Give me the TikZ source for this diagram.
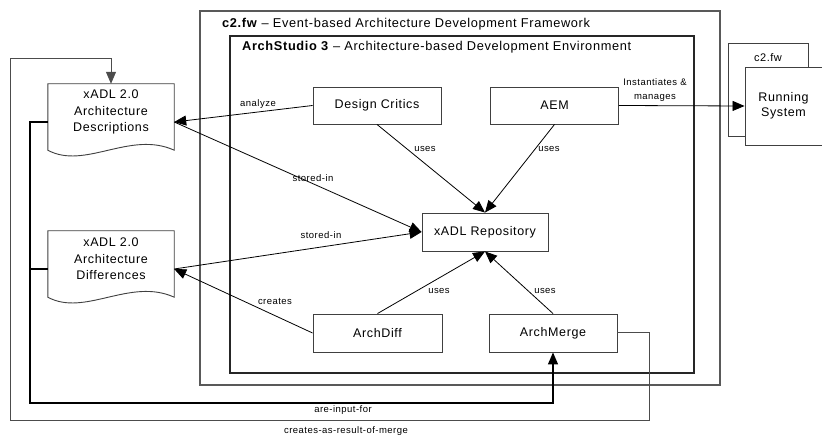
\documentclass[tikz,border=0pt]{standalone}
\usepackage{fontspec}
\setmainfont[LetterSpace=5]{Liberation Sans}
\usetikzlibrary{arrows.meta,calc}
\definecolor{linegray}{gray}{0.25}
\definecolor{framegray}{gray}{0.35}
\begin{document}
\begin{tikzpicture}[x=1pt,y=-1pt,
  box/.style={draw=linegray, line width=0.9pt, fill=white, minimum width=128pt, minimum height=37pt, inner sep=0pt, align=center, font=\fontsize{12.5}{15}\selectfont},
  lbl/.style={font=\fontsize{9.5}{14}\selectfont, inner sep=0pt, align=center},
  tip/.style={-{Triangle[length=12pt,width=10pt]}},
  conn/.style={draw=black, line width=0.8pt, tip},
  doctxt/.style={font=\fontsize{12.5}{16.5}\selectfont, align=center, inner sep=0pt},
  docbox/.style={minimum width=126pt, minimum height=76pt, inner sep=0pt},
  docline/.style={draw=linegray, line width=0.9pt, fill=white},
  outerframe/.style={draw=framegray, line width=1.6pt},
  innerframe/.style={draw=black!85, line width=1.3pt},
  titletxt/.style={font=\fontsize{12.8}{15}\selectfont, anchor=west, inner sep=0pt},
  inputline/.style={draw=black, line width=1.3pt},
  mergeline/.style={draw=black!70, line width=1pt}
]
\useasboundingbox (0,0) rectangle (822,435);

% frames
\draw[outerframe] (200,11) rectangle (720,385);
\draw[innerframe] (230,36) rectangle (694,373);
\node[titletxt] (t1) at (222,24) {\textbf{c2.fw} – Event-based Architecture Development Framework};
\node[titletxt] (t2) at (242,47) {\textbf{ArchStudio 3} – Architecture-based Development Environment};

% documents
\node[docbox] (d1) at (111,122) {};
\node[docbox] (d2) at (111,269) {};
\foreach \d in {d1,d2}{
  \draw[docline] (\d.north west) -- (\d.north east) -- ([yshift=10pt]\d.south east)
    .. controls +(-44,-20) and +(37,20) .. ([yshift=10pt]\d.south west) -- cycle;
}
\node[doctxt] (d1t) at ([yshift=10pt]d1.center) {xADL 2.0\\Architecture\\Descriptions};
\node[doctxt] (d2t) at ([yshift=10pt]d2.center) {xADL 2.0\\Architecture\\Differences};

% boxes
\node[box] (dc) at (377,105.5) {Design Critics};
\node[box] (aem) at (554.5,105.5) {AEM};
\node[box, minimum width=126pt, minimum height=38pt] (repo) at (485,232) {xADL Repository};
\node[box, minimum width=129pt, minimum height=38pt] (diff) at (377.5,333) {ArchDiff};
\node[box, minimum width=128pt, minimum height=38pt] (merge) at (553,333) {ArchMerge};

% running system
\node[draw=linegray, line width=0.9pt, minimum width=80pt, minimum height=93pt, inner sep=0pt] (rsback) at (768,89.5) {};
\node[font=\fontsize{11}{13}\selectfont, inner sep=0pt] (rsfw) at (768,58) {c2.fw};
\node[box, minimum width=77pt, minimum height=78pt] (running) at (783.5,106) {Running\\System};

% connectors
\draw[conn] (dc.west) -- (d1.east);
\draw[conn] (d1.east) -- (repo.west);
\draw[conn] (d2.east) -- (repo.west);
\draw[conn] (diff.west) -- (d2.east);
\draw[conn] (dc.south) -- (repo.north);
\draw[conn] (aem.south) -- (repo.north);
\draw[conn] (diff.north) -- (repo.south);
\draw[conn] (merge.north) -- (repo.south);
\draw[conn] (aem.east) -- (running.west);

% loops
\coordinate (loopA) at (30,403);
\coordinate (loopC) at (649,421);
\coordinate (loopD) at (10,59);
\draw[inputline, tip] (d1.west) -| (loopA) -| (merge.south);
\draw[inputline] (d2.west) -- (d2.west -| loopA);
\draw[mergeline, tip] (merge.east) -| (loopC) -| (loopD) -| (d1.north);

% labels
\node[lbl] (l1) at (258,104) {analyze};
\node[lbl] (l2) at (313,178) {stored-in};
\node[lbl] (l3) at (321,235) {stored-in};
\node[lbl] (l4) at (275,301) {creates};
\node[lbl] (l5) at (425,149) {uses};
\node[lbl] (l6) at (549,149) {uses};
\node[lbl] (l7) at (439,291) {uses};
\node[lbl] (l8) at (545,291) {uses};
\node[lbl] (l9) at (655,90) {Instantiates \&\\manages};
\node[lbl] (l10) at (343,410) {are-input-for};
\node[lbl] (l11) at (346,431) {creates-as-result-of-merge};
\end{tikzpicture}
\end{document}
